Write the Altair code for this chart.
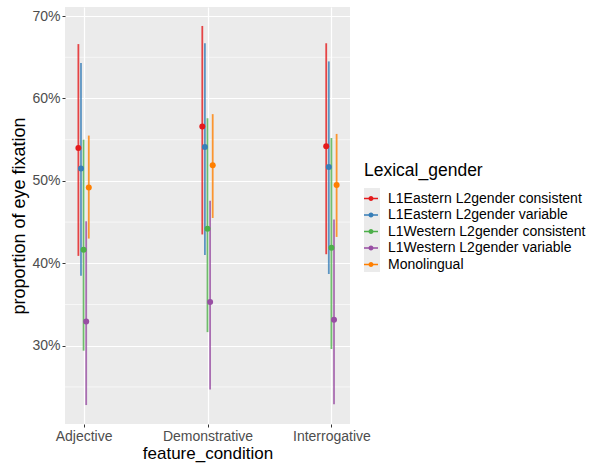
import altair as alt
import pandas as pd

# Eye-fixation proportions (%) with interval bounds, per condition and group
conditions = ["Adjective", "Demonstrative", "Interrogative"]
groups = [
    "L1Eastern L2gender consistent",
    "L1Eastern L2gender variable",
    "L1Western L2gender consistent",
    "L1Western L2gender variable",
    "Monolingual",
]
colors = ["#E41A1C", "#377EB8", "#4DAF4A", "#984EA3", "#FF7F00"]

mean_adjective = [54.0, 51.5, 41.65, 32.95, 49.2]
mean_demonstrative = [56.6, 54.1, 44.2, 35.3, 51.9]
mean_interrogative = [54.2, 51.7, 41.9, 33.15, 49.5]

lower_adjective = [40.9, 38.5, 29.4, 22.8, 43.0]
lower_demonstrative = [43.5, 41.0, 31.65, 24.7, 45.5]
lower_interrogative = [41.1, 38.7, 29.6, 22.9, 43.2]

upper_adjective = [66.6, 64.3, 55.0, 45.1, 55.5]
upper_demonstrative = [68.8, 66.7, 57.6, 47.6, 58.1]
upper_interrogative = [66.7, 64.5, 55.2, 45.3, 55.7]

major_ticks = [0.3, 0.4, 0.5, 0.6, 0.7]
minor_ticks = [0.25, 0.35, 0.45, 0.55, 0.65]

means = [mean_adjective, mean_demonstrative, mean_interrogative]
lowers = [lower_adjective, lower_demonstrative, lower_interrogative]
uppers = [upper_adjective, upper_demonstrative, upper_interrogative]

rows = []
for ci, cond in enumerate(conditions):
    for gi, grp in enumerate(groups):
        rows.append({
            "feature_condition": cond,
            "Lexical_gender": grp,
            "mean": means[ci][gi] / 100,
            "lower": lowers[ci][gi] / 100,
            "upper": uppers[ci][gi] / 100,
        })
df = pd.DataFrame(rows)

FONT = "Liberation Sans"

y_scale = alt.Scale(domain=[0.205, 0.711], nice=False, zero=False)
x_enc = alt.X(
    "feature_condition:N",
    scale=alt.Scale(type="point", padding=0.15, domain=conditions),
    axis=alt.Axis(
        title="feature_condition", labelAngle=0, grid=True, gridColor="white",
        gridWidth=1.2, tickSize=3, tickColor="#333333", domain=False,
        labelFontSize=14, labelColor="#4D4D4D", labelPadding=2,
        titleFontSize=17, titleFontWeight="normal", titleColor="black",
        titlePadding=2,
    ),
)
offset_enc = alt.XOffset(
    "Lexical_gender:N",
    sort=groups,
    scale=alt.Scale(type="point", range=[-5.2, 5.2], padding=0),
)
color_enc = alt.Color(
    "Lexical_gender:N",
    sort=groups,
    scale=alt.Scale(domain=groups, range=colors),
    legend=alt.Legend(
        title="Lexical_gender", orient="none", legendX=299, legendY=155,
        padding=0, titleFontSize=17.5, titleFontWeight="normal",
        titleColor="black", titlePadding=12, labelFontSize=14,
        labelColor="black", labelOffset=10, labelLimit=0, rowPadding=2.5,
        symbolType="M-0.36,0A0.36,0.36 0 1,1 0.36,0A0.36,0.36 0 1,1 -0.36,0Z"
                   "M-1,-0.1H1V0.1H-1Z",
        symbolSize=196, symbolStrokeWidth=0, symbolOpacity=1,
    ),
)

y_axis = alt.Axis(
    title="proportion of eye fixation", values=major_ticks, format=".0%",
    grid=True, gridColor="white", gridWidth=1.2, tickSize=3,
    tickColor="#333333", domain=False, labelFontSize=14,
    labelColor="#4D4D4D", labelPadding=2, titleFontSize=18,
    titleFontWeight="normal", titleColor="black", titlePadding=3,
)

minor_grid = alt.Chart(pd.DataFrame({"v": minor_ticks})).mark_rule(
    color="white", strokeWidth=0.6
).encode(y=alt.Y("v:Q", scale=y_scale, axis=y_axis))

# grey key backdrop behind the legend symbols
key_bg = alt.Chart(pd.DataFrame({"k": [0]})).mark_rect(
    color="#EBEBEB", clip=False
).encode(
    x=alt.value(299), x2=alt.value(315), y=alt.value(181), y2=alt.value(265)
)

bars = alt.Chart(df).mark_rule(strokeWidth=1.8, opacity=0.8).encode(
    x=x_enc,
    xOffset=offset_enc,
    y=alt.Y("lower:Q", scale=y_scale, axis=y_axis),
    y2="upper:Q",
    color=color_enc,
)

points = alt.Chart(df).mark_circle(size=36, opacity=1).encode(
    x=x_enc,
    xOffset=offset_enc,
    y=alt.Y("mean:Q", scale=y_scale, axis=y_axis),
    color=color_enc,
)

chart = alt.layer(minor_grid, key_bg, bars, points).properties(
    width=285,
    height=417,
    autosize=alt.AutoSizeParams(type="none"),
    padding={"left": 65, "top": 7, "right": 247, "bottom": 39},
    background="white",
).configure(
    font=FONT
).configure_view(
    fill="#EBEBEB", stroke=None
)

chart.save("out.html", embed_options={"renderer": "svg", "actions": False})
